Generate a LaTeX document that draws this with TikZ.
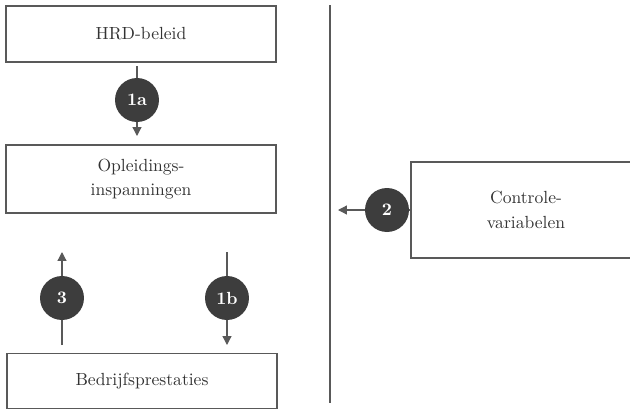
\documentclass[tikz,border=0pt]{standalone}
\usetikzlibrary{arrows.meta}
\definecolor{lijn}{gray}{0.35}
\definecolor{bolkleur}{gray}{0.24}
\begin{document}
\begin{tikzpicture}[x=0.02cm, y=-0.02cm, >={Triangle[length=5pt, width=5pt]},
	box/.style={draw=lijn, line width=0.7pt, minimum width=5.4cm, align=center, text=black!80},
	nummer/.style={circle, fill=bolkleur, text=white, font=\bfseries, minimum size=0.88cm, inner sep=0pt},
	pijl/.style={->, draw=lijn, line width=0.7pt}]
		\useasboundingbox (0,0) rectangle (630,410);
		% blokken
		\node[box, minimum height=1.12cm] (hrd) at (141,34) {HRD-beleid};
		\node[box, minimum height=1.36cm] (opl) at (141,179) {Opleidings-\\[2pt]inspanningen};
		\node[box, minimum height=1.1cm] (bedr) at (142,381) {Bedrijfsprestaties};
		\begin{scope}
		\clip (0,0) rectangle (630,410);
		\node[box, minimum width=4.6cm, minimum height=1.92cm] (contr) at (526,210) {Controle-\\[2pt]variabelen};
		\end{scope}
		\draw[draw=lijn, line width=0.7pt] (330,5) -- (330,403);
		% pijlen
		\coordinate (s1a) at (137,66);
		\coordinate (e1a) at (137,136);
		\coordinate (s3) at (62,345);
		\coordinate (e3) at (62,252);
		\coordinate (s1b) at (227,252);
		\coordinate (e1b) at (227,345);
		\coordinate (e2) at (338,210);
		\draw[pijl] (s1a) -- (e1a);
		\draw[pijl] (s3) -- (e3);
		\draw[pijl] (s1b) -- (e1b);
		\draw[pijl] (contr.west) -- (e2);
		\node[nummer] (n1a) at (137,100) {1a};
		\node[nummer] (n3) at (62,298) {3};
		\node[nummer] (n1b) at (227,298) {1b};
		\node[nummer] (n2) at (387,210) {2};
\end{tikzpicture}
\end{document}
